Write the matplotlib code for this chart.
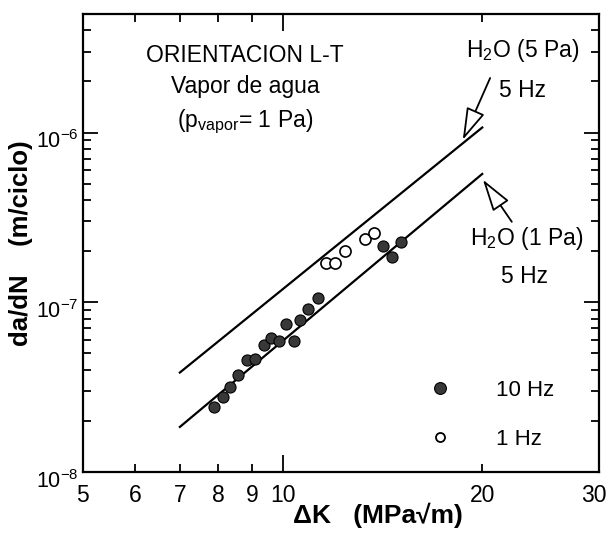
#!/usr/bin/env python3
"""
Crack growth rate da/dN vs Delta K, water vapour, orientation L-T.
"""

import matplotlib
matplotlib.use("Agg")
import matplotlib.pyplot as plt
import matplotlib.transforms as mtransforms
from matplotlib.lines import Line2D
from matplotlib.ticker import NullFormatter, FixedLocator, FixedFormatter

plt.rcParams['font.family'] = ['Liberation Sans', 'DejaVu Sans']
plt.rcParams['mathtext.default'] = 'regular'

# filled circles, 10 Hz
dk_10hz = [7.88, 8.12, 8.34, 8.57, 8.84, 9.08, 9.37, 9.61, 9.86, 10.12,
           10.40, 10.61, 10.94, 11.32, 14.19, 14.63, 15.08]
dadn_10hz = [2.40e-8, 2.75e-8, 3.16e-8, 3.72e-8, 4.57e-8, 4.65e-8, 5.62e-8,
             6.17e-8, 5.89e-8, 7.48e-8, 5.89e-8, 7.83e-8, 9.12e-8, 1.06e-7,
             2.14e-7, 1.85e-7, 2.27e-7]

# open circles, 1 Hz
dk_1hz = [11.63, 12.01, 12.44, 13.31, 13.75]
dadn_1hz = [1.70e-7, 1.70e-7, 2.01e-7, 2.37e-7, 2.54e-7]

# reference lines, 5 Hz
dk_5pa = [7.0, 20.0]
dadn_5pa = [3.85e-8, 1.07e-6]
dk_1pa = [7.0, 20.0]
dadn_1pa = [1.84e-8, 5.7e-7]

x_major = [10]
x_minor = [5, 6, 7, 8, 9, 20, 30]

fig = plt.figure(figsize=(6.1, 5.35), dpi=100)
ax = fig.add_axes([0.136, 0.118, 0.846, 0.856])

ax.plot(dk_5pa, dadn_5pa, color='black', lw=1.6)
ax.plot(dk_1pa, dadn_1pa, color='black', lw=1.6)

ax.plot(dk_10hz, dadn_10hz, 'o', ms=8, mfc='#383838', mec='black', mew=0.8,
        ls='none')
ax.plot(dk_1hz, dadn_1hz, 'o', ms=8, mfc='white', mec='black', mew=1.2,
        ls='none')

ax.set_xscale('log')
ax.set_yscale('log')
ax.set_xlim(5, 30)
ax.set_ylim(1e-8, 5e-6)

ax.xaxis.set_major_locator(FixedLocator(x_major))
ax.xaxis.set_major_formatter(FixedFormatter([str(v) for v in x_major]))
ax.xaxis.set_minor_locator(FixedLocator(x_minor))
ax.xaxis.set_minor_formatter(FixedFormatter([str(v) for v in x_minor]))
ax.yaxis.set_minor_formatter(NullFormatter())

ax.tick_params(which='both', direction='in', top=True, right=True, width=1.3)
ax.tick_params(axis='x', which='both', labelsize=16.5, pad=9)
ax.tick_params(axis='x', which='major', length=12)
ax.tick_params(axis='x', which='minor', length=6)
ax.tick_params(axis='y', which='major', length=11, labelsize=15.5, pad=3)
ax.tick_params(axis='y', which='minor', length=6)
for s in ax.spines.values():
    s.set_linewidth(1.6)

# y tick labels sit a bit below their ticks in the original
shift = mtransforms.ScaledTranslation(0, -5 / 72, fig.dpi_scale_trans)
for lab in ax.get_yticklabels():
    lab.set_transform(lab.get_transform() + shift)

# keep the "30" inside the figure edge
nudge = mtransforms.ScaledTranslation(-4 / 72, 0, fig.dpi_scale_trans)
for lab in ax.xaxis.get_minorticklabels():
    if lab.get_text() == '30':
        lab.set_transform(lab.get_transform() + nudge)

ax.set_ylabel('da/dN    (m/ciclo)', fontsize=18.5, fontweight='bold', labelpad=2)
ax.set_xlabel('ΔK   (MPa√m)', fontsize=19, fontweight='bold')
ax.xaxis.set_label_coords(0.572, -0.068)

ax.text(0.314, 0.895, 'ORIENTACION L-T', transform=ax.transAxes,
        ha='center', va='baseline', fontsize=16.5)
ax.text(0.314, 0.828, 'Vapor de agua', transform=ax.transAxes,
        ha='center', va='baseline', fontsize=16.5)
ax.text(0.314, 0.753, '(p$_{vapor}$= 1 Pa)', transform=ax.transAxes,
        ha='center', va='baseline', fontsize=16.5)

arrow = dict(arrowstyle='-|>,head_length=1.0,head_width=0.3',
             mutation_scale=20, fc='white', ec='black', lw=1.3,
             shrinkA=0, shrinkB=0)
ax.text(0.851, 0.906, 'H$_2$O (5 Pa)', transform=ax.transAxes,
        ha='center', va='baseline', fontsize=16.5)
ax.text(0.852, 0.819, '5 Hz', transform=ax.transAxes,
        ha='center', va='baseline', fontsize=16.5)
ax.annotate('', xy=(0.736, 0.725), xytext=(0.789, 0.860),
            xycoords='axes fraction', arrowprops=arrow)

ax.text(0.859, 0.496, 'H$_2$O (1 Pa)', transform=ax.transAxes,
        ha='center', va='baseline', fontsize=16.5)
ax.text(0.855, 0.413, '5 Hz', transform=ax.transAxes,
        ha='center', va='baseline', fontsize=16.5)
ax.annotate('', xy=(0.775, 0.638), xytext=(0.831, 0.546),
            xycoords='axes fraction', arrowprops=arrow)

handles = [
    Line2D([], [], marker='o', ms=8.5, mfc='#383838', mec='black', mew=0.8,
           ls='none', label='10 Hz'),
    Line2D([], [], marker='o', ms=6.5, mfc='white', mec='black', mew=1.3,
           ls='none', label='1 Hz'),
]
ax.legend(handles=handles, loc='lower left', bbox_to_anchor=(0.632, 0.005),
          frameon=False, fontsize=16, handletextpad=2.0, labelspacing=1.25,
          handlelength=1.0)

fig.savefig('out.png', dpi=100)
